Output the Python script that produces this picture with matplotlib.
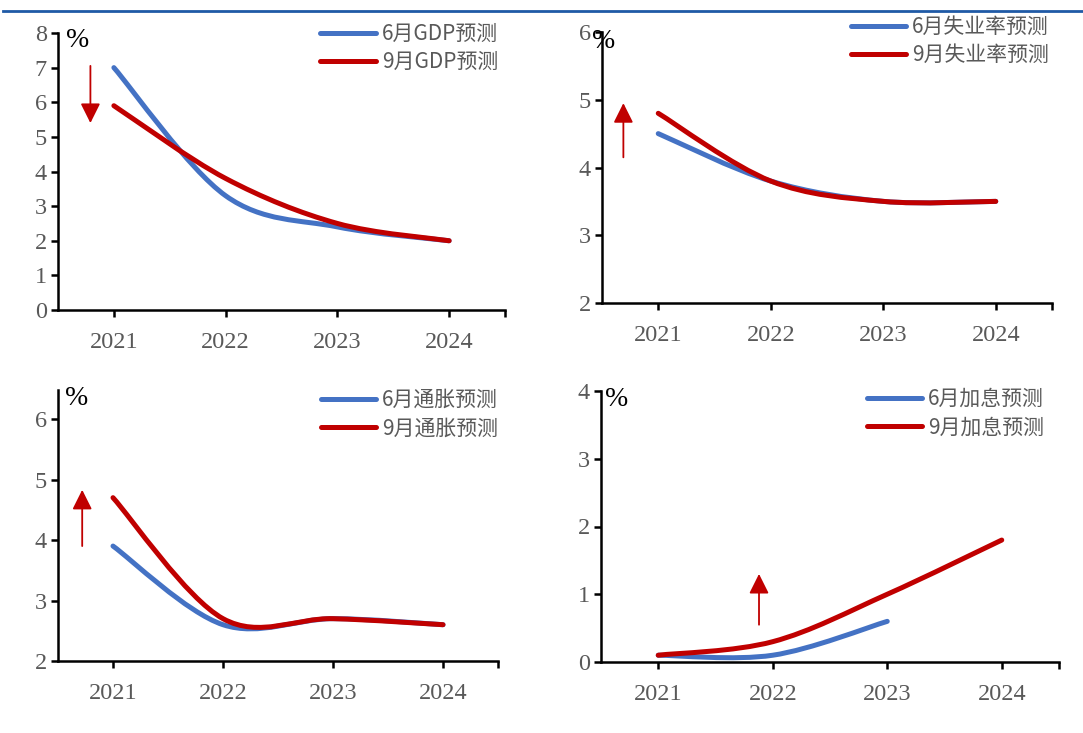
import matplotlib
matplotlib.use('Agg')
import matplotlib.pyplot as plt
from matplotlib.path import Path
from matplotlib.patches import PathPatch
from matplotlib.lines import Line2D
import numpy as np

# 年份
years = ['2021', '2022', '2023', '2024']

# GDP 预测
gdp_jun = [7.0, 3.3, 2.4, 2.0]
gdp_sep = [5.9, 3.8, 2.5, 2.0]
# 失业率预测
unemp_jun = [4.5, 3.8, 3.5, 3.5]
unemp_sep = [4.8, 3.8, 3.5, 3.5]
# 通胀预测
infl_jun = [3.9, 2.6, 2.7, 2.6]
infl_sep = [4.7, 2.7, 2.7, 2.6]
# 加息预测 (6月只到2023)
rate_jun = [0.1, 0.1, 0.6]
rate_sep = [0.1, 0.3, 1.0, 1.8]

BLUE = '#4472C4'
RED = '#C00000'
GREY = '#595959'
SERIF = ['Liberation Serif', 'DejaVu Serif']
CJK = ['Noto Sans CJK SC', 'DejaVu Sans']

W, H = 1083, 733
fig = plt.figure(figsize=(W / 100, H / 100), dpi=100)


def add_ax(left, top, right, bottom):
    return fig.add_axes([left / W, 1 - bottom / H, (right - left) / W, (bottom - top) / H])


def smooth_line(ax, vals, color):
    # Excel 风格平滑线：三次贝塞尔曲线
    x = np.arange(len(vals), dtype=float)
    y = np.asarray(vals, dtype=float)
    pts = np.column_stack([x, y])
    n = len(pts)
    verts = [pts[0]]
    codes = [Path.MOVETO]
    for i in range(n - 1):
        p0 = pts[i - 1] if i > 0 else pts[i]
        p3 = pts[i + 2] if i + 2 < n else pts[i + 1]
        c1 = pts[i] + (pts[i + 1] - p0) / 6
        c2 = pts[i + 1] - (p3 - pts[i]) / 6
        verts += [c1, c2, pts[i + 1]]
        codes += [Path.CURVE4] * 3
    patch = PathPatch(Path(verts, codes), facecolor='none', edgecolor=color,
                      lw=3.6, capstyle='round', joinstyle='round')
    ax.add_patch(patch)


def style_ax(ax, ylim, yticks, labels, leg_pos, arrow, pct_off):
    ax.set_xlim(-0.5, 3.5)
    ax.set_ylim(*ylim)
    ax.set_yticks(yticks)
    ax.set_xticks([0, 1, 2, 3, 3.5])
    ax.set_xticklabels(years + [''])
    for s in ['top', 'right']:
        ax.spines[s].set_visible(False)
    for s in ['left', 'bottom']:
        ax.spines[s].set_linewidth(1.8)
        ax.spines[s].set_color('black')
    ax.tick_params(axis='both', direction='out', length=5, width=1.8, color='black',
                   labelcolor=GREY, labelsize=17.5, pad=3)
    ax.tick_params(axis='x', pad=11)
    for t in ax.get_xticklabels() + ax.get_yticklabels():
        t.set_family(SERIF)
    handles = [Line2D([], [], color=BLUE, lw=3.6, solid_capstyle='round'),
               Line2D([], [], color=RED, lw=3.6, solid_capstyle='round')]
    # 图例右上角位置 (像素)
    lx, ly = leg_pos
    leg = ax.legend(handles, labels, loc='upper right',
                    bbox_to_anchor=(lx / W, 1 - ly / H), bbox_transform=fig.transFigure,
                    frameon=False, handlelength=2.65, handletextpad=0.3,
                    labelspacing=0.3, borderaxespad=0, borderpad=0,
                    prop={'family': CJK, 'size': 15})
    for t in leg.get_texts():
        t.set_color(GREY)
    (x0, y0), (x1, y1) = arrow
    ax.annotate('', xy=(x1, y1), xytext=(x0, y0),
                arrowprops=dict(arrowstyle='-|>,head_length=0.6,head_width=0.3',
                                color=RED, lw=1.3, mutation_scale=20, shrinkA=0, shrinkB=0))
    ax.annotate('%', xy=(0, 1), xycoords='axes fraction', xytext=pct_off,
                textcoords='offset pixels', ha='left', va='top',
                fontsize=20, family=SERIF, color='black')


# GDP
ax1 = add_ax(58, 33, 505, 310)
smooth_line(ax1, gdp_jun, BLUE)
smooth_line(ax1, gdp_sep, RED)
style_ax(ax1, (0, 8), range(0, 9), ['6月GDP预测', '9月GDP预测'], (498, 23),
         ((-0.21, 7.05), (-0.21, 5.4)), (8, 5))

# 失业率
ax2 = add_ax(602, 32, 1052, 303)
smooth_line(ax2, unemp_jun, BLUE)
smooth_line(ax2, unemp_sep, RED)
style_ax(ax2, (2, 6), range(2, 7), ['6月失业率预测', '9月失业率预测'], (1049, 16),
         ((-0.31, 4.15), (-0.31, 4.95)), (-10, 3))

# 通胀
ax3 = add_ax(58, 390, 498, 661)
smooth_line(ax3, infl_jun, BLUE)
smooth_line(ax3, infl_sep, RED)
style_ax(ax3, (2, 6.48), range(2, 7), ['6月通胀预测', '9月通胀预测'], (498, 389),
         ((-0.28, 3.9), (-0.28, 4.83)), (7, 4))

# 加息
ax4 = add_ax(601, 391, 1059, 662)
smooth_line(ax4, rate_jun, BLUE)
smooth_line(ax4, rate_sep, RED)
style_ax(ax4, (0, 4), range(0, 5), ['6月加息预测', '9月加息预测'], (1044, 388),
         ((0.88, 0.55), (0.88, 1.3)), (4, 4))

# 顶部蓝色分隔线
fig.add_artist(Line2D([3 / W, 1], [1 - 11 / H, 1 - 11 / H], color='#1F5AA6', lw=2.0))

fig.savefig('out.png', dpi=100)
